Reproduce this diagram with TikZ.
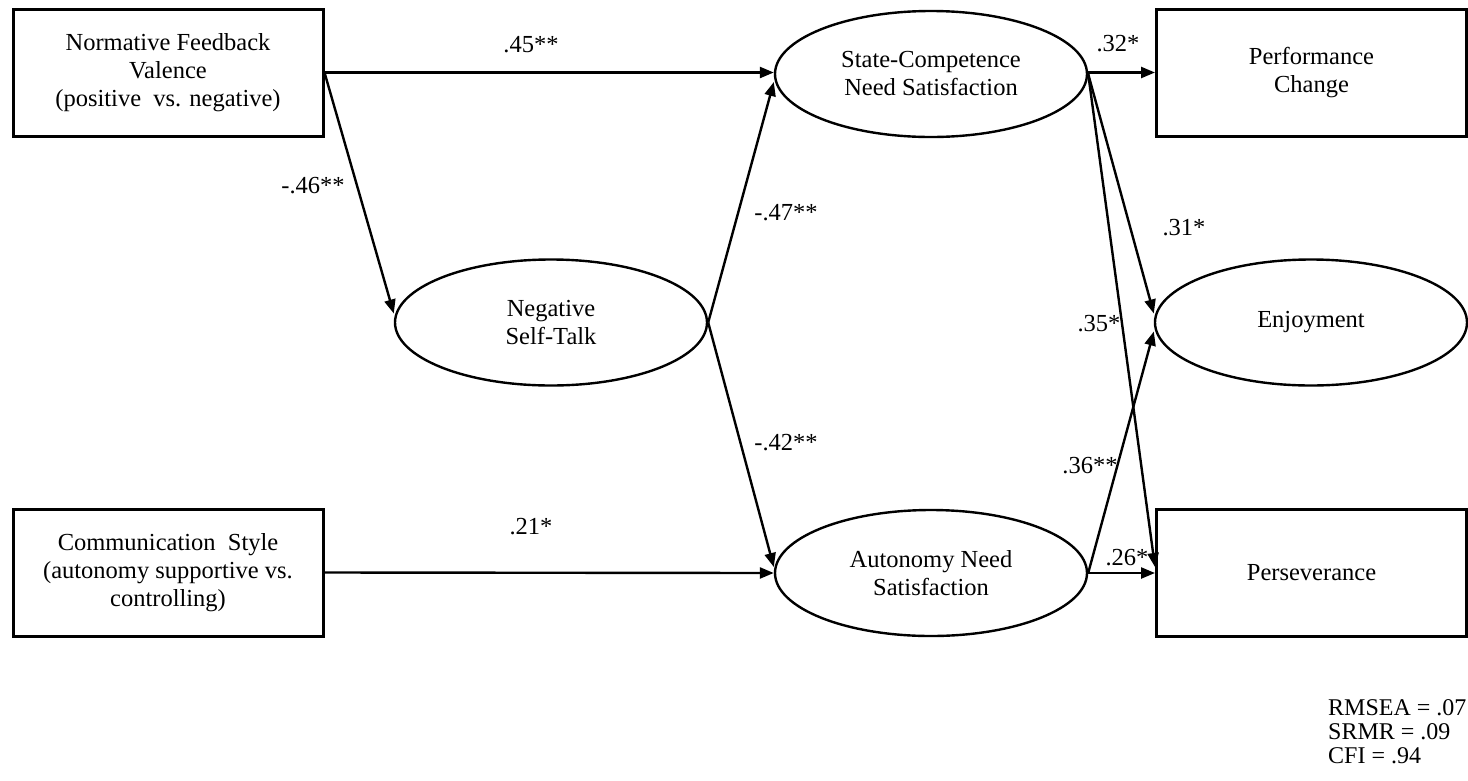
\documentclass[tikz,border=0pt]{standalone}
\usepackage{fontspec}
\setmainfont{Liberation Serif}
\usetikzlibrary{shapes.geometric,arrows.meta}
\begin{document}
\begin{tikzpicture}[x=1pt,y=-1pt,
  every node/.style={font=\fontsize{24.5}{28}\selectfont},
  varbox/.style={draw,line width=3pt,minimum width=310pt,minimum height=127pt,inner sep=0pt,align=center},
  latent/.style={draw,ellipse,line width=2.4pt,minimum width=312pt,minimum height=126pt,inner sep=0pt,align=center},
  effect/.style={line width=2.4pt,-{Triangle[length=14pt,width=11pt]}},
  coef/.style={inner sep=0pt}]
\useasboundingbox (0,0) rectangle (1468,780);

% observed variables
\node[varbox] (nfv) at (168,72.5) {Normative Feedback\\Valence\\(positive\ \ vs. negative)};
\node[varbox] (cs) at (168,572.5) {Communication\ \ Style\\(autonomy supportive vs.\\controlling)};
\node[varbox] (pc) at (1311.5,72.5) {Performance\\Change};
\node[varbox] (per) at (1311.5,573) {Perseverance};

% latent variables
\node[latent] (nst) at (551,322.5) {Negative\\Self-Talk};
\node[latent] (scn) at (931,74) {State-Competence\\Need Satisfaction};
\node[latent] (ans) at (931,573) {Autonomy Need\\Satisfaction};
\node[latent] (enj) at (1311,322.5) {Enjoyment};

% structural paths
\draw[effect] (nfv.east) -- ([yshift=9pt]nst.west);
\draw[effect] (nfv.east) -- ([yshift=1.5pt]scn.west);
\draw[effect] (nst.east) -- ([yshift=-8pt]scn.west);
\draw[effect] (nst.east) -- ([yshift=6pt]ans.west);
\draw[effect] (cs.east) -- (ans.west);
\draw[effect] ([yshift=1.5pt]scn.east) -- (pc.west);
\draw[effect] (scn.east) -- ([yshift=9pt]enj.west);
\draw[effect] (scn.east) -- ([yshift=6pt]per.west);
\draw[effect] (ans.east) -- ([yshift=-9pt]enj.west);
\draw[effect] (ans.east) -- (per.west);

% path coefficients
\node[coef] (c1) at (531,45) {.45**};
\node[coef] (c2) at (313,186) {-.46**};
\node[coef] (c3) at (786,213) {-.47**};
\node[coef] (c4) at (786,443) {-.42**};
\node[coef] (c5) at (531,527) {.21*};
\node[coef] (c6) at (1118,44) {.32*};
\node[coef] (c7) at (1184,228) {.31*};
\node[coef] (c8) at (1099,324) {.35*};
\node[coef] (c9) at (1090,466) {.36**};
\node[coef] (c10) at (1127,558) {.26*};

% model fit
\node[coef,anchor=west,align=left,font=\fontsize{24}{24}\selectfont] (fit) at (1328,732)
  {RMSEA = .07\\SRMR = .09\\CFI = .94};
\end{tikzpicture}
\end{document}
